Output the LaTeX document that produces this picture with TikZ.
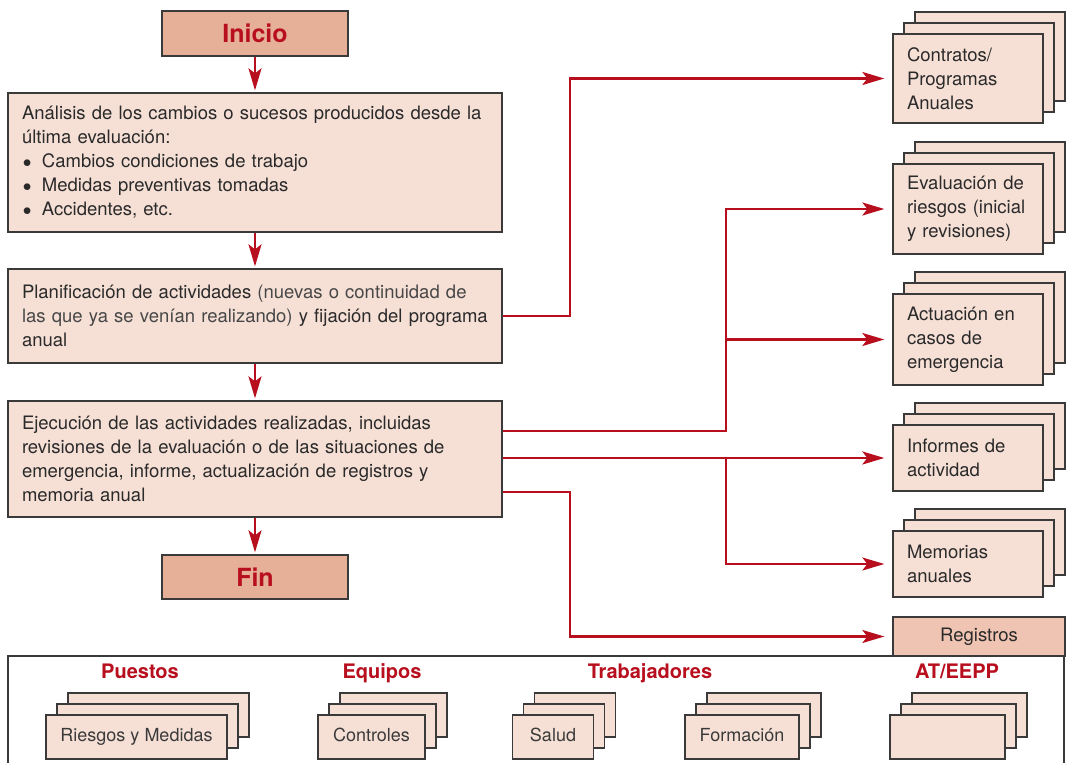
\documentclass[tikz,border=0pt]{standalone}
\usepackage{fontspec}
\setmainfont{TeX Gyre Heros}
\usepackage{tikz}
\usetikzlibrary{arrows.meta,positioning,shadows}
\definecolor{accent}{HTML}{B80F1E}
\definecolor{paper}{HTML}{F6E0D6}
\definecolor{salmon}{HTML}{E6AF98}
\definecolor{rose}{HTML}{EFC4B3}
\definecolor{edge}{HTML}{3A3A3A}
\definecolor{ink}{HTML}{2A2A2A}
\definecolor{inklight}{HTML}{474747}
\newcommand{\blt}{\makebox[20pt][l]{\hspace{1pt}$\bullet$}}

\begin{document}
\begin{tikzpicture}[
      x=1pt, y=-1pt,
      every node/.style={font=\fontsize{18.5}{24}\selectfont, text=ink},
      endbox/.style={draw=edge,line width=1.3pt,fill=salmon,minimum width=186pt,minimum height=45pt,
        font=\fontsize{25}{28}\selectfont\bfseries,text=accent},
      stepbox/.style={draw=edge,line width=1.3pt,fill=paper,minimum width=494pt,text width=466pt,
        inner xsep=14pt,align=left},
      stack/.style={
        general shadow={shadow xshift=22pt,shadow yshift=22pt,draw=edge,line width=1.3pt,fill=paper},
        general shadow={shadow xshift=11pt,shadow yshift=11pt,draw=edge,line width=1.3pt,fill=paper}},
      doc/.style={stack,draw=edge,line width=1.3pt,fill=paper,minimum width=150pt,text width=122pt,
        inner xsep=14pt,align=left},
      card/.style={stack,draw=edge,line width=1.3pt,fill=paper,minimum height=44pt,inner sep=0pt,
        text height=13pt,text depth=4pt,font=\fontsize{18}{22}\selectfont,text=edge},
      regbox/.style={draw=edge,line width=1.3pt,fill=rose,minimum width=172pt,minimum height=39pt,inner sep=0pt},
      head/.style={font=\fontsize{20}{24}\selectfont\bfseries,text=accent,text height=14.5pt,text depth=4.5pt},
      link/.style={draw=accent,line width=2.2pt,-{Stealth[length=22pt,width=13pt,inset=5pt]}}
  ]
    \useasboundingbox (0,0) rectangle (1066,763);

    % main flow
    \node[endbox] (inicio) at (255,33.5) {Inicio};
    \node[stepbox,minimum height=139pt] (anal) at (255,162.5)
      {Análisis de los cambios o sucesos producidos desde la\\
       última evaluación:\\
       \blt Cambios condiciones de trabajo\\
       \blt Medidas preventivas tomadas\\
       \blt Accidentes, etc.};
    \node[stepbox,minimum height=94pt] (plan) at (255,316)
      {Planificación de actividades \color{inklight}(nuevas o continuidad de\\
       las que ya se venían realizando) \color{ink}y fijación del programa\\
       anual};
    \node[stepbox,minimum height=116pt] (ejec) at (255,459)
      {Ejecución de las actividades realizadas, incluidas\\
       revisiones de la evaluación o de las situaciones de\\
       emergencia, informe, actualización de registros y\\
       memoria anual};
    \node[endbox,minimum height=44pt] (fin) at (255,577) {Fin};

    % documents
    \node[doc,minimum height=89pt] (contr) at (968,78.5) {Contratos/\\Programas\\Anuales};
    \node[doc,minimum height=90pt] (evalr) at (968,209) {Evaluación de\\riesgos (inicial\\y revisiones)};
    \node[doc,minimum height=91pt] (actu) at (968,339.5) {Actuación en\\casos de\\emergencia};
    \node[doc,minimum height=66pt] (info) at (968,458) {Informes de\\actividad};
    \node[doc,minimum height=66pt] (memo) at (968,564) {Memorias\\anuales};

    % registers frame
    \draw[draw=edge,line width=1.3pt] (8,656) rectangle (1064,800);
    \node[regbox] (regis) at (979,636.5) {Registros};

    \node[head] (hpue) at (140,673) {Puestos};
    \node[head] (hequ) at (382,673) {Equipos};
    \node[head] (htra) at (650,673) {Trabajadores};
    \node[head] (hat) at (957,673) {AT/EEPP};

    \node[card,minimum width=181pt] (riesg) at (136.5,737) {Riesgos y Medidas};
    \node[card,minimum width=107pt] (contro) at (371.5,737) {Controles};
    \node[card,minimum width=81pt] (salud) at (553,737) {Salud};
    \node[card,minimum width=114pt] (forma) at (742,737) {Formación};
    \node[card,minimum width=115pt] (atee) at (947.5,737) {};

    % connectors
    \draw[link,shorten >=2pt] (inicio) -- (anal);
    \draw[link,shorten >=2pt] (anal) -- (plan);
    \draw[link,shorten >=2pt] (plan) -- (ejec);
    \draw[link,shorten >=2pt] (ejec) -- (fin);

    \coordinate (trunkA) at (570,0);
    \coordinate (trunkB) at (726,0);
    \draw[link,shorten >=8pt] (plan.east) -| (trunkA |- contr.west) -- (contr.west);
    \draw[link,shorten >=8pt] ([yshift=28pt]ejec.east) -| (trunkB |- evalr.west) -- (evalr.west);
    \draw[link,shorten >=8pt] (trunkB |- actu.west) -- (actu.west);
    \draw[link,shorten >=8pt] (ejec.east |- info.west) -- (info.west);
    \draw[link,shorten >=8pt] (trunkB |- info.west) |- (memo.west);
    \draw[link,shorten >=8pt] ([yshift=-33pt]ejec.east) -| (trunkA |- regis.west) -- (regis.west);
\end{tikzpicture}
\end{document}
